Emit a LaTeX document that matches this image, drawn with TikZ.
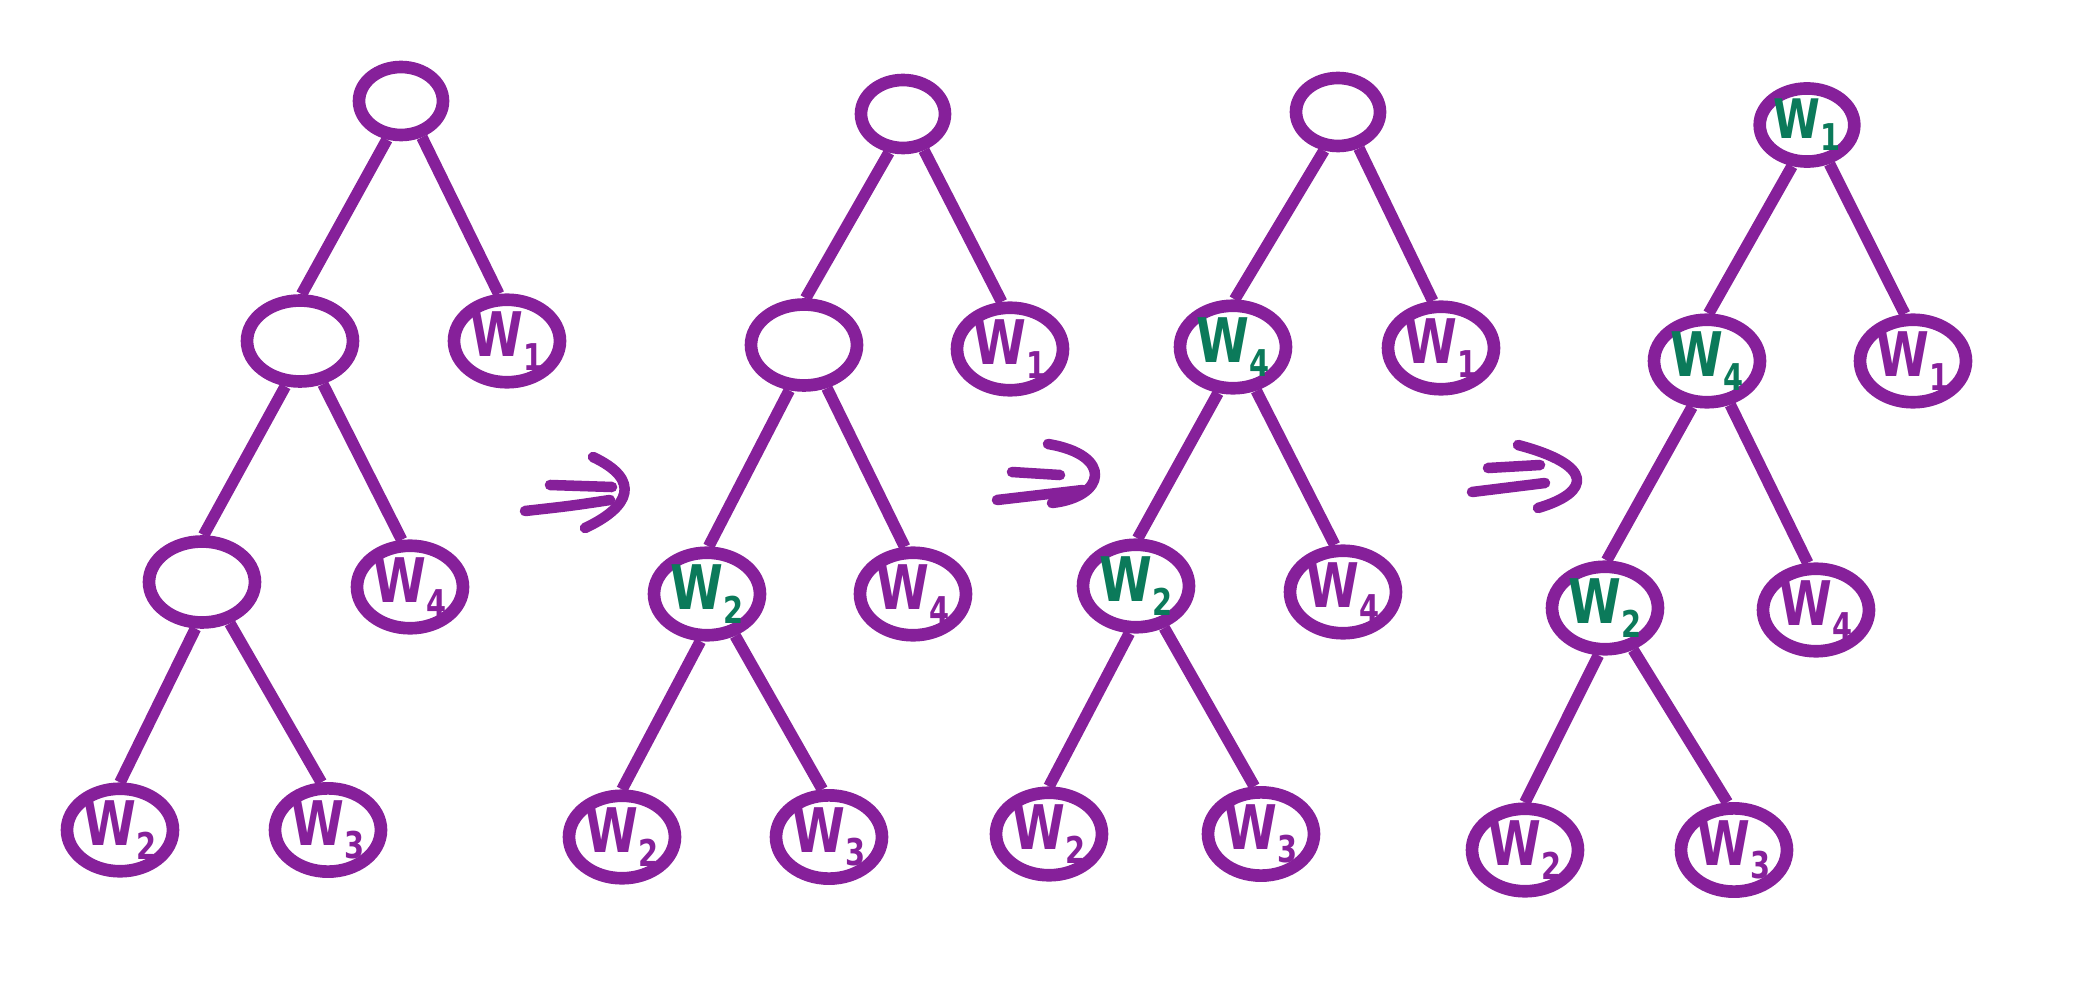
\documentclass[tikz,border=0pt]{standalone}
\usepackage{fontspec}
\newfontfamily\handfont{DejaVu Sans}
\usetikzlibrary{shapes.geometric}
\definecolor{purp}{HTML}{86209A}
\definecolor{grn}{HTML}{0B7A5A}
\newcommand{\wlab}[1]{\scalebox{0.78}[1]{W\raisebox{-0.22em}{\fontsize{21}{21}\selectfont #1}}}
\begin{document}
\begin{tikzpicture}[x=0.02cm,y=-0.02cm,
 nd/.style={ellipse, draw=purp, line width=7.2pt, minimum width=2.12cm, minimum height=1.62cm, inner sep=0pt, font=\handfont\bfseries\fontsize{35}{35}\selectfont},
 rt/.style={nd, minimum width=1.68cm, minimum height=1.36cm},
 leaf/.style={nd, text=purp},
 merged/.style={nd, text=grn},
 edge/.style={draw=purp, line width=6.6pt},
 stroke/.style={draw=purp, line width=6pt, line cap=round, line join=round}]
\useasboundingbox (0,0) rectangle (2083,1000);

% ---------- tree 1
\node[rt]   (t1r)  at (401,101) {};
\node[nd]   (t1a)  at (300,341) {};
\node[leaf] (t1w1) at (507,341) {\wlab{1}};
\node[nd]   (t1b)  at (202,582) {};
\node[leaf] (t1w4) at (410,587) {\wlab{4}};
\node[leaf] (t1w2) at (120,830) {\wlab{2}};
\node[leaf] (t1w3) at (328,830) {\wlab{3}};

% ---------- tree 2
\node[rt]     (t2r)  at (903,114) {};
\node[nd]     (t2a)  at (804,345) {};
\node[leaf]   (t2w1) at (1010,349) {\wlab{1}};
\node[merged] (t2b)  at (707,594) {\wlab{2}};
\node[leaf]   (t2w4) at (913,594) {\wlab{4}};
\node[leaf]   (t2w2) at (622,837) {\wlab{2}};
\node[leaf]   (t2w3) at (829,837) {\wlab{3}};

% ---------- tree 3
\node[rt]     (t3r)  at (1338,112) {};
\node[merged] (t3a)  at (1233,347) {\wlab{4}};
\node[leaf]   (t3w1) at (1441,348) {\wlab{1}};
\node[merged] (t3b)  at (1136,586) {\wlab{2}};
\node[leaf]   (t3w4) at (1343,592) {\wlab{4}};
\node[leaf]   (t3w2) at (1049,834) {\wlab{2}};
\node[leaf]   (t3w3) at (1261,834) {\wlab{3}};

% ---------- tree 4
\node[rt, text=grn, minimum width=1.62cm, minimum height=1.28cm, font=\handfont\bfseries\fontsize{31}{31}\selectfont] (t4r) at (1807,125) {\wlab{1}};
\node[merged] (t4a)  at (1707,361) {\wlab{4}};
\node[leaf]   (t4w1) at (1913,361) {\wlab{1}};
\node[merged] (t4b)  at (1605,608) {\wlab{2}};
\node[leaf]   (t4w4) at (1816,610) {\wlab{4}};
\node[leaf]   (t4w2) at (1525,850) {\wlab{2}};
\node[leaf]   (t4w3) at (1734,850) {\wlab{3}};

% ---------- edges
\foreach \t in {t1,t2,t3,t4}{
  \draw[edge] (\t r.-110) -- (\t a.88);
  \draw[edge] (\t r.-60)  -- (\t w1.100);
  \draw[edge] (\t a.-108) -- (\t b.88);
  \draw[edge] (\t a.-62)  -- (\t w4.100);
  \draw[edge] (\t b.-98) -- (\t w2.90);
  \draw[edge] (\t b.-56)  -- (\t w3.98);
}

% ---------- double arrows
\draw[stroke] (550,485) -- (612,487);
\draw[stroke] (525,511) .. controls (570,506) .. (610,500);
\draw[stroke] (593,457) .. controls (642,480) and (630,507) .. (585,528);

\draw[stroke] (1012,472) -- (1060,475);
\draw[stroke] (997,500) -- (1083,490);
\draw[stroke] (1048,444) .. controls (1114,455) and (1106,497) .. (1052,503);

\draw[stroke] (1488,468) -- (1540,465);
\draw[stroke] (1472,492) -- (1545,483);
\draw[stroke] (1518,445) .. controls (1594,465) and (1592,492) .. (1538,508);
\end{tikzpicture}
\end{document}
